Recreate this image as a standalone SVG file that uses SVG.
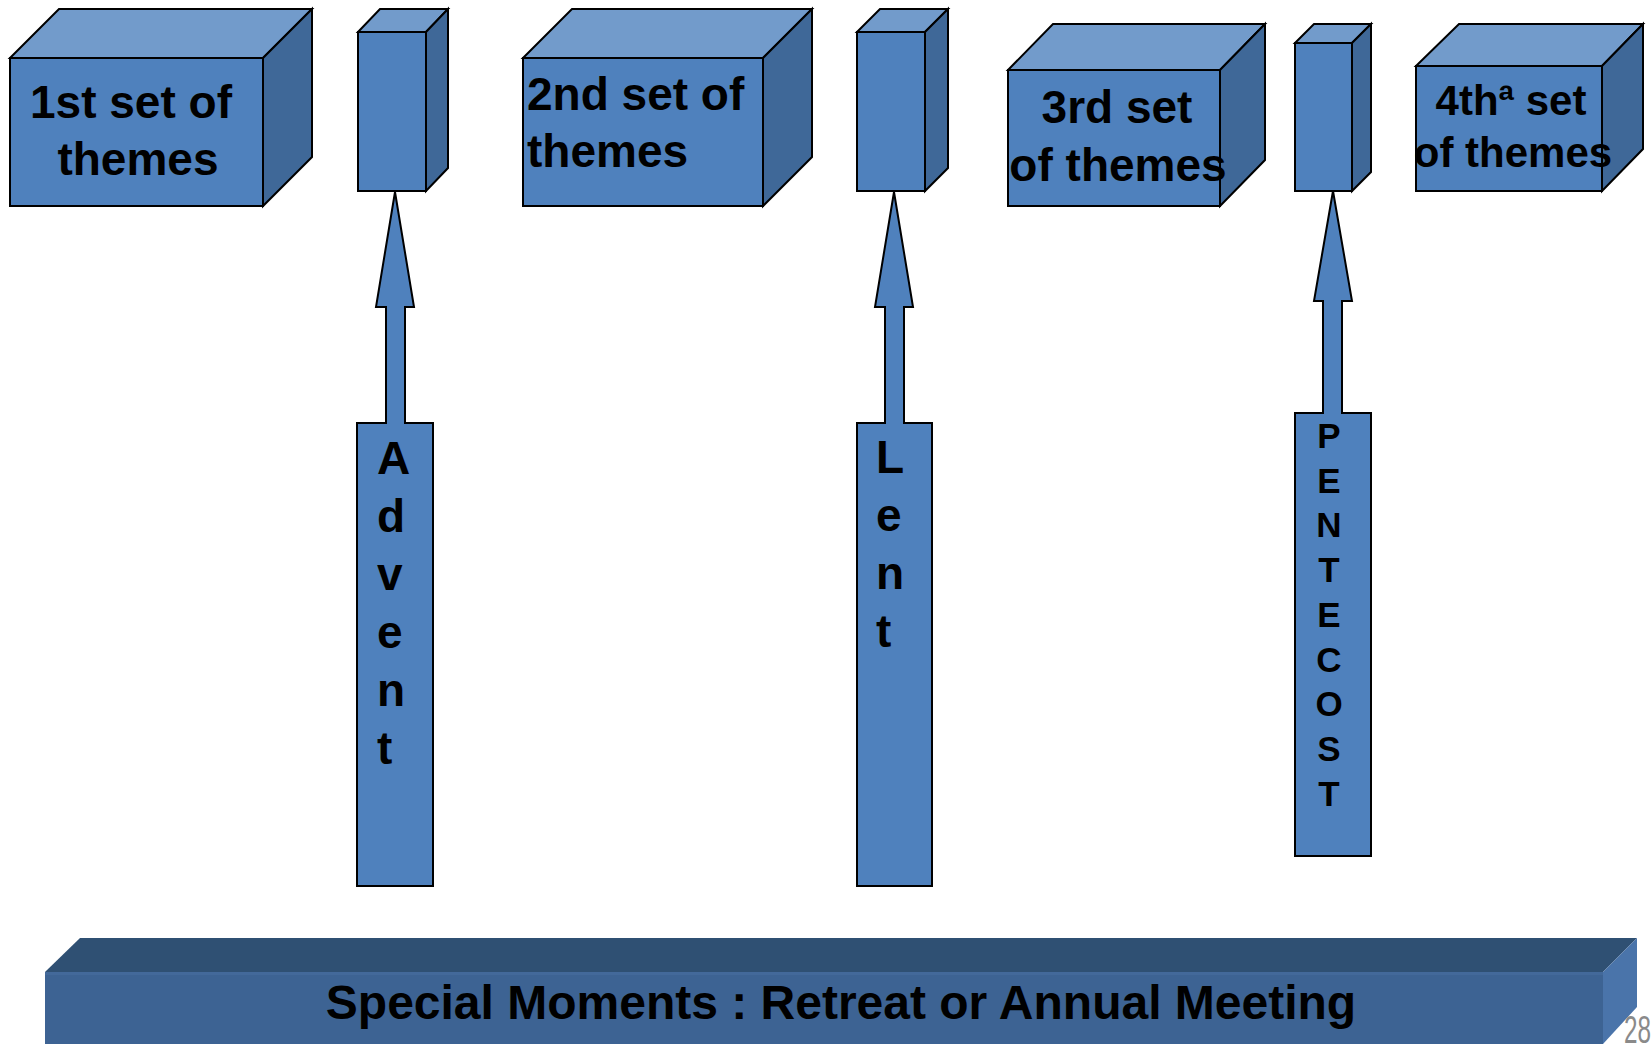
<svg xmlns="http://www.w3.org/2000/svg" width="1652" height="1044" viewBox="0 0 1652 1044">
<style>
.front{fill:#4f81bd;stroke:#000;stroke-width:2;stroke-linejoin:miter}
.top{fill:#729bcb;stroke:#000;stroke-width:2;stroke-linejoin:miter}
.side{fill:#3f6898;stroke:#000;stroke-width:2;stroke-linejoin:miter}
.arrow{fill:#4f81bd;stroke:#000;stroke-width:2;stroke-linejoin:miter}
.t{font-family:"Liberation Sans",Arial,sans-serif;font-weight:bold;fill:#000}
</style>
<rect width="1652" height="1044" fill="#fff"/>

<g id="box1">
  <polygon class="top" points="10,58 59,9 312,9 263,58"/>
  <polygon class="side" points="263,58 312,9 312,157 263,206"/>
  <rect class="front" x="10" y="58" width="253" height="148"/>
  <text class="t" font-size="46" text-anchor="middle" x="131" y="118">1st set of</text>
  <text class="t" font-size="46" text-anchor="middle" x="138" y="175">themes</text>
</g>

<g id="advent-block">
  <polygon class="top" points="358,32 380,9 448,9 426,32"/>
  <polygon class="side" points="426,32 448,9 448,168 426,191"/>
  <rect class="front" x="358" y="32" width="68" height="159"/>
</g>

<g id="box2">
  <polygon class="top" points="523,58 572,9 812,9 763,58"/>
  <polygon class="side" points="763,58 812,9 812,157 763,206"/>
  <rect class="front" x="523" y="58" width="240" height="148"/>
  <text class="t" font-size="46" x="527" y="110">2nd set of</text>
  <text class="t" font-size="46" x="527" y="167">themes</text>
</g>

<g id="lent-block">
  <polygon class="top" points="857,32 880,9 948,9 925,32"/>
  <polygon class="side" points="925,32 948,9 948,168 925,191"/>
  <rect class="front" x="857" y="32" width="68" height="159"/>
</g>

<g id="box3">
  <polygon class="top" points="1008,70 1053,24 1265,24 1220,70"/>
  <polygon class="side" points="1220,70 1265,24 1265,160 1220,206"/>
  <rect class="front" x="1008" y="70" width="212" height="136"/>
  <text class="t" font-size="46" text-anchor="middle" x="1117" y="123">3rd set</text>
  <text class="t" font-size="46" text-anchor="middle" x="1118" y="181">of themes</text>
</g>

<g id="pentecost-block">
  <polygon class="top" points="1295,43 1314,24 1371,24 1352,43"/>
  <polygon class="side" points="1352,43 1371,24 1371,172 1352,191"/>
  <rect class="front" x="1295" y="43" width="57" height="148"/>
</g>

<g id="box4">
  <polygon class="top" points="1416,66 1459,24 1643,24 1602,66"/>
  <polygon class="side" points="1602,66 1643,24 1643,149 1602,191"/>
  <rect class="front" x="1416" y="66" width="186" height="125"/>
  <text class="t" font-size="42" text-anchor="middle" x="1511" y="115">4thª set</text>
  <text class="t" font-size="42" text-anchor="middle" x="1513" y="167">of themes</text>
</g>

<g id="connectors">
  <g id="advent">
    <polygon class="arrow" points="395,192 414,307 405,307 405,423 433,423 433,886 357,886 357,423 386,423 386,307 376,307"/>
    <g class="t" font-size="46">
      <text x="377" y="474">A</text>
      <text x="377" y="532">d</text>
      <text x="377" y="590">v</text>
      <text x="377" y="648">e</text>
      <text x="377" y="706">n</text>
      <text x="377" y="764">t</text>
    </g>
  </g>
  <g id="lent">
    <polygon class="arrow" points="894,192 913,307 904,307 904,423 932,423 932,886 857,886 857,423 885,423 885,307 875,307"/>
    <g class="t" font-size="46">
      <text x="876" y="473">L</text>
      <text x="876" y="531">e</text>
      <text x="876" y="589">n</text>
      <text x="876" y="647">t</text>
    </g>
  </g>
  <g id="pentecost">
    <polygon class="arrow" points="1333,191 1352,301 1342,301 1342,413 1371,413 1371,856 1295,856 1295,413 1323,413 1323,301 1314,301"/>
    <g class="t" font-size="35" text-anchor="middle">
      <text x="1329" y="448">P</text>
      <text x="1329" y="493">E</text>
      <text x="1329" y="537">N</text>
      <text x="1329" y="582">T</text>
      <text x="1329" y="627">E</text>
      <text x="1329" y="672">C</text>
      <text x="1329" y="716">O</text>
      <text x="1329" y="761">S</text>
      <text x="1329" y="806">T</text>
    </g>
  </g>
</g>

<g id="special-moments">
  <polygon fill="#2f5073" points="45,972 80,938 1637,938 1603,972"/>
  <polygon fill="#4a74aa" points="1603,972 1637,938 1637,1007 1603,1044"/>
  <rect fill="#3d6393" x="45" y="972" width="1558" height="72"/>
  <rect fill="#43699a" x="45" y="972" width="1558" height="3"/>
  <text class="t" font-size="48" text-anchor="middle" x="841" y="1019">Special Moments : Retreat or Annual Meeting</text>
</g>

<text x="1624" y="1043" font-family="'Liberation Sans',Arial,sans-serif" font-size="38" fill="#8a8a8a" textLength="27" lengthAdjust="spacingAndGlyphs">28</text>
</svg>
